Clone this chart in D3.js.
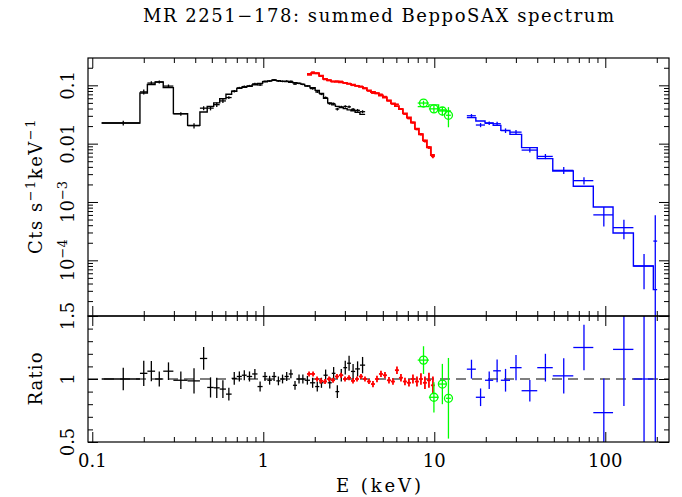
<!DOCTYPE html>
<html>
<head>
<meta charset="utf-8">
<script src="https://cdn.jsdelivr.net/npm/d3@7"></script>
<style>
  body { margin: 0; background: #fff; }
  text { font-family: "DejaVu Serif", serif; fill: #000; }
</style>
</head>
<body>
<svg id="chart" width="682" height="497"></svg>
<script>
// LECS (black): bin edges in keV, folded model (cts/s/keV), data/model ratio and its 1-sigma error
var lecsEdges = [0.1135, 0.190, 0.210, 0.233, 0.260, 0.298, 0.361, 0.426, 0.470, 0.513, 0.556,
  0.605, 0.653, 0.700, 0.749, 0.800, 0.861, 0.925, 0.991, 1.056, 1.122, 1.192, 1.260, 1.332,
  1.409, 1.491, 1.575, 1.661, 1.747, 1.875, 2.011, 2.127, 2.250, 2.380, 2.515, 2.642, 2.779,
  2.938, 3.093, 3.256, 3.445, 3.675, 3.94];
var lecsModel = [0.0226, 0.0738, 0.103, 0.114, 0.0913, 0.0327, 0.0206, 0.0349, 0.0436, 0.0501,
  0.0587, 0.0701, 0.0789, 0.0888, 0.0924, 0.0961, 0.102, 0.108, 0.1148, 0.1194, 0.1218, 0.1204,
  0.117, 0.1157, 0.1126, 0.111, 0.108, 0.104, 0.098, 0.0906, 0.082, 0.0729, 0.0598, 0.0501,
  0.0463, 0.0436, 0.0415, 0.0398, 0.038, 0.0366, 0.0345, 0.0318];
var lecsRatio = [1.0, 1.045, 1.062, 1.0, 1.062, 0.99, 0.985, 1.163, 0.933, 0.93, 0.92, 0.88,
  1.005, 1.02, 1.03, 1.02, 1.04, 0.94, 1.02, 0.99, 1.02, 0.985, 1.0, 1.02, 1.04, 0.95, 1.0, 1.0,
  0.99, 0.97, 0.94, 0.97, 1.03, 0.97, 1.045, 0.90, 1.03, 1.09, 1.125, 1.06, 1.08, 1.11];
var lecsErr = [0.09, 0.10, 0.08, 0.06, 0.07, 0.07, 0.10, 0.09, 0.08, 0.08, 0.07, 0.05, 0.05,
  0.04, 0.04, 0.04, 0.04, 0.04, 0.035, 0.035, 0.035, 0.035, 0.035, 0.035, 0.035, 0.035, 0.035,
  0.035, 0.035, 0.04, 0.04, 0.04, 0.045, 0.045, 0.05, 0.05, 0.05, 0.055, 0.06, 0.06, 0.06, 0.065];

// MECS (red)
var mecsEdges = [1.802, 1.902, 2.007, 2.118, 2.235, 2.358, 2.489, 2.626, 2.771, 2.925, 3.086,
  3.257, 3.437, 3.627, 3.827, 4.039, 4.262, 4.498, 4.747, 5.009, 5.286, 5.579, 5.887, 6.213,
  6.556, 6.919, 7.301, 7.705, 8.131, 8.581, 9.055, 9.556, 10.08];
var mecsModel = [0.151, 0.161, 0.161, 0.146, 0.129, 0.122, 0.117, 0.115, 0.113, 0.110, 0.106,
  0.102, 0.098, 0.094, 0.089, 0.082, 0.077, 0.073, 0.067, 0.062, 0.055, 0.049, 0.044, 0.039,
  0.033, 0.028, 0.023, 0.018, 0.0145, 0.0114, 0.0087, 0.0064];
var mecsRatio = [1.04, 1.04, 1.0, 0.985, 0.98, 1.0, 0.99, 1.02, 1.03, 1.0, 1.01, 0.985, 1.0,
  1.02, 1.0, 0.98, 0.96, 1.0, 1.04, 1.03, 0.99, 0.98, 1.07, 1.01, 0.98, 0.97, 1.0, 0.98, 1.0,
  0.97, 0.99, 0.95];
var mecsErr = [0.02, 0.02, 0.02, 0.02, 0.02, 0.02, 0.02, 0.02, 0.02, 0.02, 0.02, 0.02, 0.02,
  0.02, 0.02, 0.02, 0.025, 0.025, 0.025, 0.025, 0.025, 0.025, 0.03, 0.03, 0.03, 0.03, 0.035,
  0.04, 0.045, 0.05, 0.06, 0.07];

// HPGSPC (green, circled points)
var hpEdges = [8.0, 9.3, 10.6, 11.7, 12.5];
var hpModel = [0.0432, 0.0462, 0.0378, 0.0362];
var hpRatio = [1.15, 0.855, 0.96, 0.847];
var hpErr = [0.11, 0.12, 0.16, 0.32];

// PDS (blue)
var pdsEdges = [15.5, 17.5, 19.8, 22.1, 24.5, 27.7, 32.4, 40.0, 49.3, 65.0, 85.1, 111, 146, 191, 201];
var pdsModel = [0.0279, 0.0244, 0.0226, 0.0206, 0.0169, 0.01445, 0.00855, 0.00554, 0.0034,
  0.001856, 0.00082, 0.000294, 0.0000798, 0.0000314];
var pdsRatio = [1.078, 0.855, 0.99, 1.065, 0.99, 1.09, 0.907, 1.09, 1.025, 1.25, 0.733, 1.235, 1.0, 6.8];
var pdsErr = [0.075, 0.07, 0.07, 0.09, 0.09, 0.10, 0.085, 0.11, 0.14, 0.18, 0.27, 0.45, 0.6, 12];

// axis ticks
var xMajor = [0.1, 1, 10, 100];
var xLabels = ["0.1", "1", "10", "100"];
var yMajor = [0.1, 0.01, 1e-3, 1e-4];
var yLabels = [["0.1"], ["0.01"], ["10", "\u22123"], ["10", "\u22124"]];
var rMajor = [0.5, 1, 1.5];
var rLabels = ["0.5", "1", "1.5"];

var W = 682, H = 497;
var L = 88, R = 669, T = 58, M = 316, B = 442;

var x = d3.scaleLog().domain([0.0944, 235.8]).range([L, R]);
var yTop = d3.scaleLog().domain([1.11e-5, 0.294]).range([M, T]);
var yRat = d3.scaleLinear().domain([0.5, 1.5]).range([B, M]);

var svg = d3.select("#chart");
svg.append("rect").attr("width", W).attr("height", H).attr("fill", "#fff");

var defs = svg.append("defs");
defs.append("clipPath").attr("id", "clipTop").append("rect")
  .attr("x", L).attr("y", T).attr("width", R - L).attr("height", M - T);
defs.append("clipPath").attr("id", "clipRat").append("rect")
  .attr("x", L).attr("y", M).attr("width", R - L).attr("height", B - M);

var insts = [
  { color: "#000000", width: 1.4, edges: lecsEdges, model: lecsModel, ratio: lecsRatio, err: lecsErr },
  { color: "#ff0000", width: 1.9, edges: mecsEdges, model: mecsModel, ratio: mecsRatio, err: mecsErr },
  { color: "#00ff00", width: 1.4, edges: hpEdges, model: hpModel, ratio: hpRatio, err: hpErr, circle: true },
  { color: "#0000ff", width: 1.4, edges: pdsEdges, model: pdsModel, ratio: pdsRatio, err: pdsErr }
];

function toBins(inst) {
  return inst.model.map(function (m, i) {
    var lo = inst.edges[i], hi = inst.edges[i + 1];
    return { lo: lo, hi: hi, mid: (lo + hi) / 2, model: m, ratio: inst.ratio[i], err: inst.err[i] };
  });
}

var gTop = svg.append("g").attr("clip-path", "url(#clipTop)");
var gRat = svg.append("g").attr("clip-path", "url(#clipRat)");

// reference line at ratio = 1
gRat.append("line")
  .attr("x1", L).attr("x2", R)
  .attr("y1", yRat(1)).attr("y2", yRat(1))
  .attr("stroke", "#555").attr("stroke-width", 1.4)
  .attr("stroke-dasharray", "10,6");

var stepLine = d3.line()
  .x(function (d) { return x(d[0]); })
  .y(function (d) { return yTop(d[1]); });

insts.forEach(function (inst) {
  var bins = toBins(inst);
  var pts = [];
  bins.forEach(function (b) { pts.push([b.lo, b.model]); pts.push([b.hi, b.model]); });

  // model histogram
  gTop.append("path")
    .attr("d", stepLine(pts))
    .attr("fill", "none")
    .attr("stroke", inst.color)
    .attr("stroke-width", inst.width);

  // data crosses in the spectrum panel
  var gd = gTop.append("g").attr("stroke", inst.color).attr("stroke-width", inst.width - 0.1).attr("fill", "none");
  bins.forEach(function (b) {
    var v = b.model * b.ratio;
    var lo = Math.max(b.model * (b.ratio - b.err), 1e-9);
    var hi = b.model * (b.ratio + b.err);
    gd.append("line").attr("x1", x(b.lo)).attr("x2", x(b.hi)).attr("y1", yTop(v)).attr("y2", yTop(v));
    gd.append("line").attr("x1", x(b.mid)).attr("x2", x(b.mid)).attr("y1", yTop(lo)).attr("y2", yTop(hi));
    if (inst.circle) gd.append("circle").attr("cx", x(b.mid)).attr("cy", yTop(v)).attr("r", 4);
  });

  // ratio crosses
  var gr = gRat.append("g").attr("stroke", inst.color).attr("stroke-width", inst.width - 0.1).attr("fill", "none");
  bins.forEach(function (b) {
    gr.append("line").attr("x1", x(b.lo)).attr("x2", x(b.hi))
      .attr("y1", yRat(b.ratio)).attr("y2", yRat(b.ratio));
    gr.append("line").attr("x1", x(b.mid)).attr("x2", x(b.mid))
      .attr("y1", yRat(b.ratio - b.err)).attr("y2", yRat(b.ratio + b.err));
    if (inst.circle) gr.append("circle").attr("cx", x(b.mid)).attr("cy", yRat(b.ratio)).attr("r", 4);
  });
});

// minor tick values
var xMinor = [];
[0.1, 1, 10, 100].forEach(function (d) {
  for (var k = 2; k <= 9; k++) if (d * k < 235.8) xMinor.push(d * k);
});
var yMinor = [];
[1e-5, 1e-4, 1e-3, 1e-2, 1e-1].forEach(function (d) {
  for (var k = 2; k <= 9; k++) if (d * k > 1.11e-5 && d * k < 0.294) yMinor.push(d * k);
});
var rMinor = [0.6, 0.7, 0.8, 0.9, 1.1, 1.2, 1.3, 1.4];

var gAx = svg.append("g");
function drawAxis(axisFn, scale, vals, size, tx, ty) {
  var g = gAx.append("g").attr("transform", "translate(" + tx + "," + ty + ")")
    .call(axisFn(scale).tickValues(vals).tickSize(-size).tickSizeOuter(0).tickFormat(""));
  g.select(".domain").remove();
  g.selectAll(".tick line").attr("stroke", "#000").attr("stroke-width", 1);
}
// x axes on both panels, all four horizontal edges
[[d3.axisTop, T], [d3.axisBottom, M], [d3.axisTop, M], [d3.axisBottom, B]].forEach(function (a) {
  drawAxis(a[0], x, xMajor, 10, 0, a[1]);
  drawAxis(a[0], x, xMinor, 5, 0, a[1]);
});
drawAxis(d3.axisLeft, yTop, yMajor, 10, L, 0);
drawAxis(d3.axisLeft, yTop, yMinor, 5, L, 0);
drawAxis(d3.axisRight, yTop, yMajor, 10, R, 0);
drawAxis(d3.axisRight, yTop, yMinor, 5, R, 0);
drawAxis(d3.axisLeft, yRat, rMajor, 10, L, 0);
drawAxis(d3.axisLeft, yRat, rMinor, 5, L, 0);
drawAxis(d3.axisRight, yRat, rMajor, 10, R, 0);
drawAxis(d3.axisRight, yRat, rMinor, 5, R, 0);

// frames
svg.append("rect").attr("x", L).attr("y", T).attr("width", R - L).attr("height", M - T)
  .attr("fill", "none").attr("stroke", "#000").attr("stroke-width", 1.2);
svg.append("rect").attr("x", L).attr("y", M).attr("width", R - L).attr("height", B - M)
  .attr("fill", "none").attr("stroke", "#000").attr("stroke-width", 1.2);

// tick labels
xMajor.forEach(function (v, i) {
  svg.append("text").attr("x", x(v)).attr("y", 467).attr("text-anchor", "middle")
    .style("font-size", "18px").text(xLabels[i]);
});
function rotLabel(xp, yp, parts) {
  var t = svg.append("text").attr("transform", "translate(" + xp + "," + yp + ") rotate(-90)")
    .attr("text-anchor", "middle").style("font-size", "18px");
  t.append("tspan").text(parts[0]);
  if (parts[1]) t.append("tspan").attr("dy", -7).style("font-size", "13px").text(parts[1]);
  return t;
}
yMajor.forEach(function (v, i) { rotLabel(74, yTop(v), yLabels[i]); });
rMajor.forEach(function (v, i) { rotLabel(74, yRat(v), [rLabels[i]]); });

// axis titles
var yt = svg.append("text").attr("transform", "translate(42,186) rotate(-90)")
  .attr("text-anchor", "middle").style("font-size", "18px").style("letter-spacing", "1.5px");
yt.append("tspan").text("Cts s");
yt.append("tspan").attr("dy", -7).style("font-size", "13px").text("\u22121");
yt.append("tspan").attr("dy", 7).text("keV");
yt.append("tspan").attr("dy", -7).style("font-size", "13px").text("\u22121");

svg.append("text").attr("transform", "translate(42," + yRat(1) + ") rotate(-90)")
  .attr("text-anchor", "middle").style("font-size", "18px")
  .attr("textLength", 53).attr("lengthAdjust", "spacing").text("Ratio");

svg.append("text").attr("x", (L + R) / 2).attr("y", 492).attr("text-anchor", "middle")
  .style("font-size", "18px").attr("textLength", 85).attr("lengthAdjust", "spacing").text("E (keV)");

svg.append("text").attr("x", (L + R) / 2).attr("y", 22).attr("text-anchor", "middle")
  .style("font-size", "18px").attr("textLength", 471).attr("lengthAdjust", "spacing")
  .text("MR 2251\u2212178: summed BeppoSAX spectrum");
</script>
</body>
</html>
